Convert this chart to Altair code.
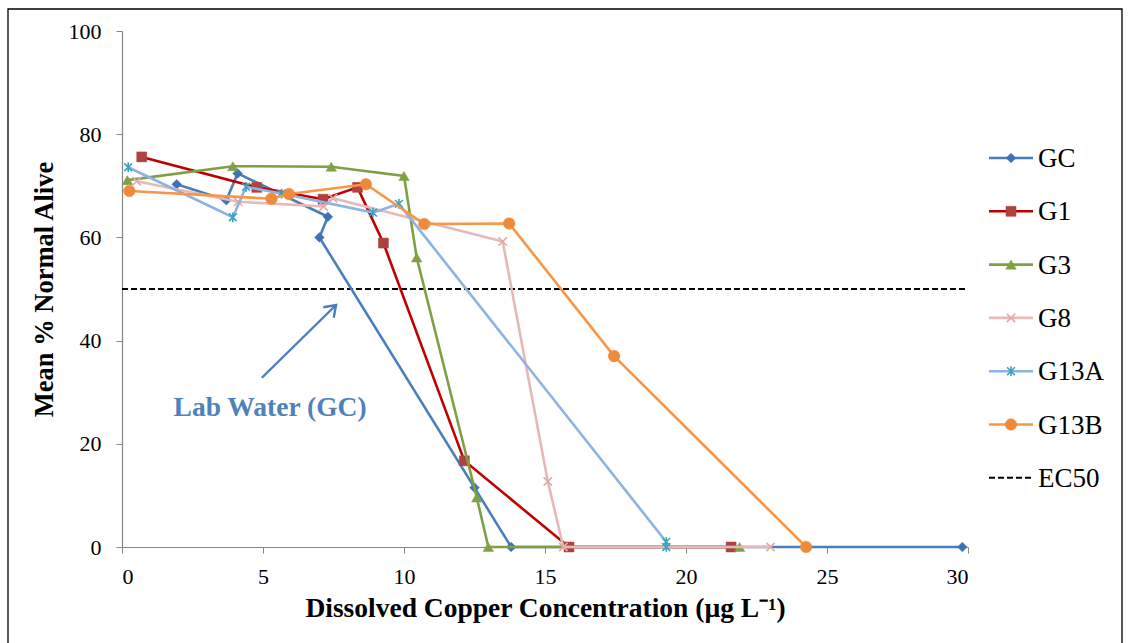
import altair as alt
import pandas as pd

# Mean % normal alive vs dissolved copper, one series per water sample
series_names = ["GC", "G1", "G3", "G8", "G13A", "G13B"]

gc_x = [1.94, 3.70, 4.10, 7.30, 7.00, 12.50, 13.80, 29.80]
gc_y = [70.3, 67.2, 72.4, 64.0, 60.0, 11.5, 0.0, 0.0]

g1_x = [0.70, 4.78, 7.13, 8.35, 9.27, 12.14, 15.85, 21.60]
g1_y = [75.6, 69.7, 67.4, 69.7, 58.9, 16.7, 0.0, 0.0]

g3_x = [0.19, 3.93, 7.42, 10.00, 10.45, 12.58, 12.99, 21.90]
g3_y = [71.1, 73.8, 73.7, 71.9, 56.1, 9.6, 0.0, 0.0]

g8_x = [0.52, 4.12, 7.15, 7.48, 13.50, 15.10, 15.65, 23.00]
g8_y = [70.9, 66.9, 66.0, 67.6, 59.2, 12.7, 0.0, 0.0]

g13a_x = [0.22, 3.93, 4.40, 5.66, 8.90, 9.82, 19.30, 19.30]
g13a_y = [73.6, 63.9, 69.8, 68.5, 64.8, 66.5, 1.0, 0.0]

g13b_x = [0.26, 5.30, 5.92, 8.65, 10.72, 13.73, 17.45, 24.26]
g13b_y = [69.0, 67.5, 68.4, 70.3, 62.6, 62.7, 37.0, 0.0]

ec50_level = 50
x_ticks = [0, 5, 10, 15, 20, 25, 30]
y_ticks = [0, 20, 40, 60, 80, 100]

annotation_text = "Lab Water (GC)"
arrow_from = (4.96, 32.8)
arrow_to = (7.59, 46.9)
annotation_at = (5.25, 26.9)

FONT = "Liberation Serif"
AXIS_GREY = "#868686"

X_SHAPE = "M-1,-1L1,1M-1,1L1,-1"
STAR_SHAPE = "M-0.8,-0.8L0.8,0.8M-0.8,0.8L0.8,-0.8M0,-1L0,1"
ARROW_HEAD = "M-0.57,0.82L0,0L0.57,0.82"

styles = {
    "GC":   dict(line="#4A7EBB", marker="#3F72B3", shape="diamond", filled=True, size=95),
    "G1":   dict(line="#C00000", marker="#AE423F", shape="square", filled=True, size=100),
    "G3":   dict(line="#7F9F45", marker="#7FA045", shape="triangle-up", filled=True, size=110),
    "G8":   dict(line="#E6B9B8", marker="#E2AAA9", shape=X_SHAPE, filled=False, size=70),
    "G13A": dict(line="#8DB3E2", marker="#3BA3C0", shape=STAR_SHAPE, filled=False, size=95),
    "G13B": dict(line="#F79646", marker="#EE8A3C", shape="circle", filled=True, size=135),
}

series_data = {
    "GC": (gc_x, gc_y),
    "G1": (g1_x, g1_y),
    "G3": (g3_x, g3_y),
    "G8": (g8_x, g8_y),
    "G13A": (g13a_x, g13a_y),
    "G13B": (g13b_x, g13b_y),
}

W, H = 846, 516

x_scale = alt.Scale(domain=[0, 30], nice=False, zero=False)
y_scale = alt.Scale(domain=[0, 100], nice=False, zero=False)

x_axis = alt.Axis(
    values=x_ticks, grid=False, domainColor=AXIS_GREY, domainWidth=1.2,
    tickColor=AXIS_GREY, tickSize=6, labelFont=FONT, labelFontSize=22,
    labelColor="black", labelPadding=13, titleFont=FONT, titleFontSize=27.5,
    titleFontWeight="bold", titleColor="black", titlePadding=7,
)
y_axis = alt.Axis(
    values=y_ticks, grid=False, domainColor=AXIS_GREY, domainWidth=1.2,
    tickColor=AXIS_GREY, tickSize=6, labelFont=FONT, labelFontSize=22,
    labelColor="black", labelPadding=15, titleFont=FONT, titleFontSize=26.5,
    titleFontWeight="bold", titleColor="black", titlePadding=10,
)
x_title = "Dissolved Copper Concentration (µg L⁻¹)"
y_title = "Mean % Normal Alive"


def X(field="x"):
    return alt.X(f"{field}:Q", scale=x_scale, axis=x_axis, title=x_title)


def Y(field="y"):
    return alt.Y(f"{field}:Q", scale=y_scale, axis=y_axis, title=y_title)


layers = []

# Outer frame around the whole figure
layers.append(
    alt.Chart(pd.DataFrame({"k": [0]})).mark_rect(
        fill=None, stroke="black", strokeWidth=1.3
    ).encode(
        x=alt.value(-114), x2=alt.value(1000), y=alt.value(-22), y2=alt.value(640)
    )
)

# EC50 reference line
ec_df = pd.DataFrame({"x": [x_ticks[0]], "x2": [x_ticks[-1]], "y": [ec50_level]})
layers.append(
    alt.Chart(ec_df).mark_rule(color="black", strokeWidth=2, strokeDash=[6, 3]).encode(
        x=X(), x2="x2:Q", y=Y()
    )
)

# Series: line then markers, drawn in order
for name in series_names:
    xs, ys = series_data[name]
    st = styles[name]
    df = pd.DataFrame({"x": xs, "y": ys, "i": list(range(len(xs)))})
    layers.append(
        alt.Chart(df).mark_line(color=st["line"], strokeWidth=2.6).encode(
            x=X(), y=Y(), order="i:Q"
        )
    )
    point_kwargs = dict(shape=st["shape"], size=st["size"], opacity=1)
    if st["filled"]:
        point_kwargs.update(filled=True, fill=st["marker"], stroke=st["marker"], strokeWidth=0.5)
    else:
        point_kwargs.update(filled=False, stroke=st["marker"], strokeWidth=1.6)
    layers.append(alt.Chart(df).mark_point(**point_kwargs).encode(x=X(), y=Y()))

# Annotation arrow and label
arrow_df = pd.DataFrame({
    "x": [arrow_from[0]], "y": [arrow_from[1]],
    "x2": [arrow_to[0]], "y2": [arrow_to[1]],
})
layers.append(
    alt.Chart(arrow_df).mark_rule(color="#4A7EBB", strokeWidth=2.4).encode(
        x=X(), y=Y(), x2="x2:Q", y2="y2:Q"
    )
)
head_df = pd.DataFrame({"x": [arrow_to[0]], "y": [arrow_to[1]]})
layers.append(
    alt.Chart(head_df).mark_point(
        shape=ARROW_HEAD, size=676, filled=False, stroke="#4A7EBB",
        strokeWidth=2.4, angle=45, opacity=1
    ).encode(x=X(), y=Y())
)
label_df = pd.DataFrame({"x": [annotation_at[0]], "y": [annotation_at[1]], "t": [annotation_text]})
layers.append(
    alt.Chart(label_df).mark_text(
        font=FONT, fontSize=27.5, fontWeight="bold", color="#4F81BD",
        align="center", baseline="middle"
    ).encode(x=X(), y=Y(), text="t:N")
)

# Legend, drawn beside the plot
LEG_TOP = 127
LEG_STEP = 53.3
LEG_X0, LEG_X1, LEG_MARK, LEG_TEXT = 867, 911, 889, 916
legend_rows = series_names + ["EC50"]
for i, name in enumerate(legend_rows):
    ly = LEG_TOP + i * LEG_STEP
    one = alt.Chart(pd.DataFrame({"label": [name]}))
    if name == "EC50":
        layers.append(
            one.mark_rule(color="black", strokeWidth=2, strokeDash=[6, 3]).encode(
                x=alt.value(LEG_X0), x2=alt.value(LEG_X1), y=alt.value(ly)
            )
        )
    else:
        st = styles[name]
        layers.append(
            one.mark_rule(color=st["line"], strokeWidth=2.6).encode(
                x=alt.value(LEG_X0), x2=alt.value(LEG_X1), y=alt.value(ly)
            )
        )
        point_kwargs = dict(shape=st["shape"], size=st["size"], opacity=1)
        if st["filled"]:
            point_kwargs.update(filled=True, fill=st["marker"], stroke=st["marker"], strokeWidth=0.5)
        else:
            point_kwargs.update(filled=False, stroke=st["marker"], strokeWidth=1.6)
        layers.append(
            one.mark_point(**point_kwargs).encode(x=alt.value(LEG_MARK), y=alt.value(ly))
        )
    layers.append(
        one.mark_text(font=FONT, fontSize=27, color="black", align="left", baseline="middle").encode(
            x=alt.value(LEG_TEXT), y=alt.value(ly + 1), text="label:N"
        )
    )

chart = alt.layer(*layers).properties(
    width=W, height=H,
    autosize=alt.AutoSizeParams(type="none"),
    padding={"left": 122, "top": 31, "right": 161, "bottom": 96},
    background="white",
).configure_view(stroke=None)

chart.save("out.html", embed_options={"renderer": "svg", "actions": False})
